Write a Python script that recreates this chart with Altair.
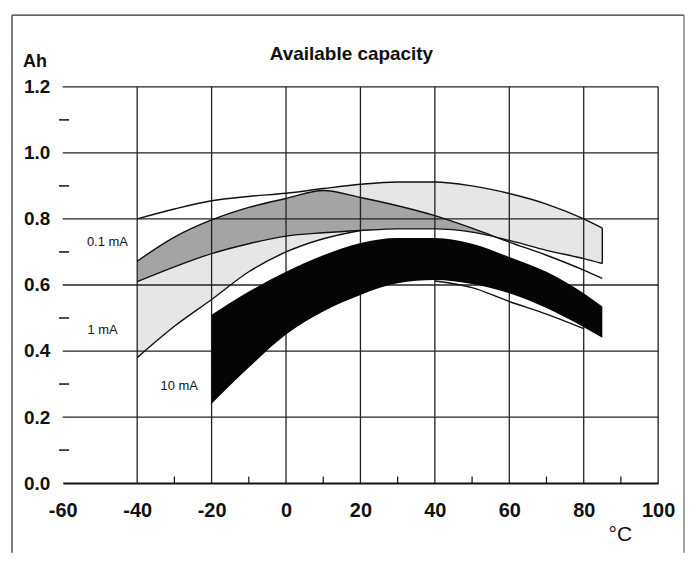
import altair as alt
import pandas as pd

# ---------------- data ----------------
X = [-40, -30, -20, -10, 0, 10, 20, 30, 40, 50, 60, 70, 80, 85]
CURVE_A = [0.80, 0.83, 0.855, 0.868, 0.878, 0.892, 0.905, 0.912, 0.912, 0.90, 0.877, 0.845, 0.80, 0.772]
CURVE_B = [0.672, 0.745, 0.797, 0.835, 0.862, 0.886, 0.865, 0.84, 0.81, 0.772, 0.73, 0.69, 0.645, 0.62]
CURVE_C = [0.61, 0.655, 0.695, 0.725, 0.748, 0.758, 0.765, 0.77, 0.77, 0.76, 0.735, 0.705, 0.68, 0.665]
BAND01_TOP = [0.672, 0.745, 0.797, 0.835, 0.862, 0.892, 0.905, 0.912, 0.912, 0.90, 0.877, 0.845, 0.80, 0.772]
BAND1_LOW = [0.38, 0.475, 0.556, 0.64, 0.70, 0.74, 0.765, 0.77, 0.77, 0.76, 0.73, 0.69, 0.645, 0.62]
D_X = [-40, -30, -20, -10, 0, 10, 20]
D_Y = [0.38, 0.475, 0.556, 0.64, 0.70, 0.74, 0.765]

E_X = [-20, -10, 0, 10, 20, 30, 40, 50, 60, 70, 80, 85]
E_TOP = [0.51, 0.58, 0.64, 0.69, 0.727, 0.742, 0.742, 0.725, 0.685, 0.64, 0.575, 0.535]
E_BOT = [0.24, 0.35, 0.45, 0.52, 0.57, 0.605, 0.615, 0.603, 0.575, 0.53, 0.472, 0.44]
T_X = [40, 50, 60, 70, 80]
T_Y = [0.612, 0.592, 0.55, 0.512, 0.468]

X_TICKS = [-60, -40, -20, 0, 20, 40, 60, 80, 100]
Y_TICKS = [0.0, 0.2, 0.4, 0.6, 0.8, 1.0, 1.2]
X_GRID = [-40, -20, 0, 20, 40, 60, 80, 100]
Y_GRID = [0.2, 0.4, 0.6, 0.8, 1.0, 1.2]
X_MINOR = [-30, -10, 10, 30, 50, 70, 90]
Y_MINOR = [0.1, 0.3, 0.5, 0.7, 0.9, 1.1]

LABELS = ["0.1 mA", "1 mA", "10 mA"]
LABEL_X = [-48, -49.3, -28.7]
LABEL_Y = [0.73, 0.463, 0.294]

TITLE = "Available capacity"
Y_UNIT = "Ah"
X_UNIT = "°C"

# ---------------- chart ----------------
FONT = "Liberation Sans"
xs = alt.Scale(domain=[-60, 100], nice=False, zero=False)
ys = alt.Scale(domain=[0, 1.2], nice=False, zero=False)

band = pd.DataFrame({"x": X, "a": CURVE_A, "b": CURVE_B, "c": CURVE_C,
                     "p": BAND01_TOP, "q": BAND1_LOW})
lines = pd.concat([
    pd.DataFrame({"x": X, "y": CURVE_A, "k": "A"}),
    pd.DataFrame({"x": X, "y": CURVE_B, "k": "B"}),
    pd.DataFrame({"x": X, "y": CURVE_C, "k": "C"}),
    pd.DataFrame({"x": D_X, "y": D_Y, "k": "D"}),
    pd.DataFrame({"x": T_X, "y": T_Y, "k": "T"}),
], ignore_index=True)
black = pd.DataFrame({"x": E_X, "top": E_TOP, "bot": E_BOT})

xaxis = alt.Axis(values=X_TICKS, grid=False, domain=True, domainColor="#111",
                 domainWidth=2, ticks=False, labelFont=FONT, labelFontSize=20,
                 labelFontWeight="bold", labelColor="#111", labelPadding=18,
                 labelFlush=False, labelExpr="'' + datum.value", title=None)
yaxis = alt.Axis(values=Y_TICKS, format=".1f", grid=False, domain=False, ticks=False,
                 labelFont=FONT, labelFontSize=19, labelFontWeight="bold",
                 labelColor="#111", labelPadding=13, labelFlush=False, title=None)


def X_(f):
    return alt.X(f, scale=xs, axis=xaxis)


def Y_(f):
    return alt.Y(f, scale=ys, axis=yaxis)


light = "#e6e6e6"
fill_p = alt.Chart(band).mark_area(color=light, interpolate="monotone").encode(
    x=X_("x:Q"), y=Y_("p:Q"), y2="c:Q")
fill_q = alt.Chart(band).mark_area(color=light, interpolate="monotone").encode(
    x=X_("x:Q"), y=Y_("b:Q"), y2="q:Q")
fill_ov = alt.Chart(band).transform_filter("datum.x <= 60").mark_area(
    color="#a4a4a4", interpolate="monotone").encode(
    x=X_("x:Q"), y=Y_("b:Q"), y2="c:Q")

vgrid = alt.Chart(pd.DataFrame({"x": X_GRID, "y0": [0.0] * len(X_GRID), "y1": [1.2] * len(X_GRID)})).mark_rule(
    color="#222", strokeWidth=1.3).encode(x=X_("x:Q"), y=Y_("y0:Q"), y2="y1:Q")
hgrid = alt.Chart(pd.DataFrame({"y": Y_GRID, "x0": [-60] * len(Y_GRID), "x1": [100] * len(Y_GRID)})).mark_rule(
    color="#222", strokeWidth=1.3).encode(y=Y_("y:Q"), x=X_("x0:Q"), x2="x1:Q")
yminor = alt.Chart(pd.DataFrame({"y": Y_MINOR, "x0": [-61.0] * len(Y_MINOR), "x1": [-58.3] * len(Y_MINOR)})).mark_rule(
    color="#111", strokeWidth=1.5).encode(y=Y_("y:Q"), x=X_("x0:Q"), x2="x1:Q")
xminor = alt.Chart(pd.DataFrame({"x": X_MINOR, "y0": [0.0] * len(X_MINOR), "y1": [0.02] * len(X_MINOR)})).mark_rule(
    color="#111", strokeWidth=1.2).encode(x=X_("x:Q"), y=Y_("y0:Q"), y2="y1:Q")

curves = alt.Chart(lines).mark_line(color="#111", strokeWidth=1.4, interpolate="monotone").encode(
    x=X_("x:Q"), y=Y_("y:Q"), detail="k:N", order="x:Q")
endcap = alt.Chart(pd.DataFrame({"x": [X[-1]], "lo": [CURVE_C[-1]], "hi": [CURVE_A[-1]]})).mark_rule(
    color="#111", strokeWidth=1.4).encode(x=X_("x:Q"), y=Y_("lo:Q"), y2="hi:Q")

blk = alt.Chart(black).mark_area(color="#050505", interpolate="monotone").encode(
    x=X_("x:Q"), y=Y_("top:Q"), y2="bot:Q")

labels = alt.Chart(pd.DataFrame({"t": LABELS, "x": LABEL_X, "y": LABEL_Y})).mark_text(
    font=FONT, fontSize=13, color="#111").encode(
    x=X_("x:Q"), y=Y_("y:Q"), text="t:N")

one = pd.DataFrame({"k": [0]})
title = alt.Chart(pd.DataFrame({"t": [TITLE]})).mark_text(
    font=FONT, fontSize=19, fontWeight="bold", color="#111").encode(
    text="t:N", x=alt.value(290), y=alt.value(-33))
yunit = alt.Chart(pd.DataFrame({"t": [Y_UNIT]})).mark_text(
    font=FONT, fontSize=18, fontWeight="bold", color="#111").encode(
    text="t:N", x=alt.value(-28), y=alt.value(-25))
xunit = alt.Chart(pd.DataFrame({"t": [X_UNIT]})).mark_text(
    font=FONT, fontSize=21, color="#111").encode(
    text="t:N", x=alt.value(560), y=alt.value(450))

frame_top = alt.Chart(one).mark_rule(color="#333", strokeWidth=1.3).encode(
    x=alt.value(-51), x2=alt.value(624), y=alt.value(-72))
frame_left = alt.Chart(one).mark_rule(color="#333", strokeWidth=1.3).encode(
    x=alt.value(-51), y=alt.value(-72), y2=alt.value(468))
frame_right = alt.Chart(one).mark_rule(color="#555", strokeWidth=1.1).encode(
    x=alt.value(624), y=alt.value(-72), y2=alt.value(468))

chart = alt.layer(
    fill_p, fill_q, fill_ov, vgrid, hgrid, curves, endcap, blk,
    yminor, xminor, labels, title, yunit, xunit, frame_top, frame_left, frame_right
).properties(
    width=598, height=398,
    autosize=alt.AutoSizeParams(type="none"),
    padding={"left": 55, "top": 78, "right": 30, "bottom": 70},
    background="white",
).configure_view(strokeWidth=0)

chart.save("out.html", embed_options={"renderer": "svg", "actions": False})
